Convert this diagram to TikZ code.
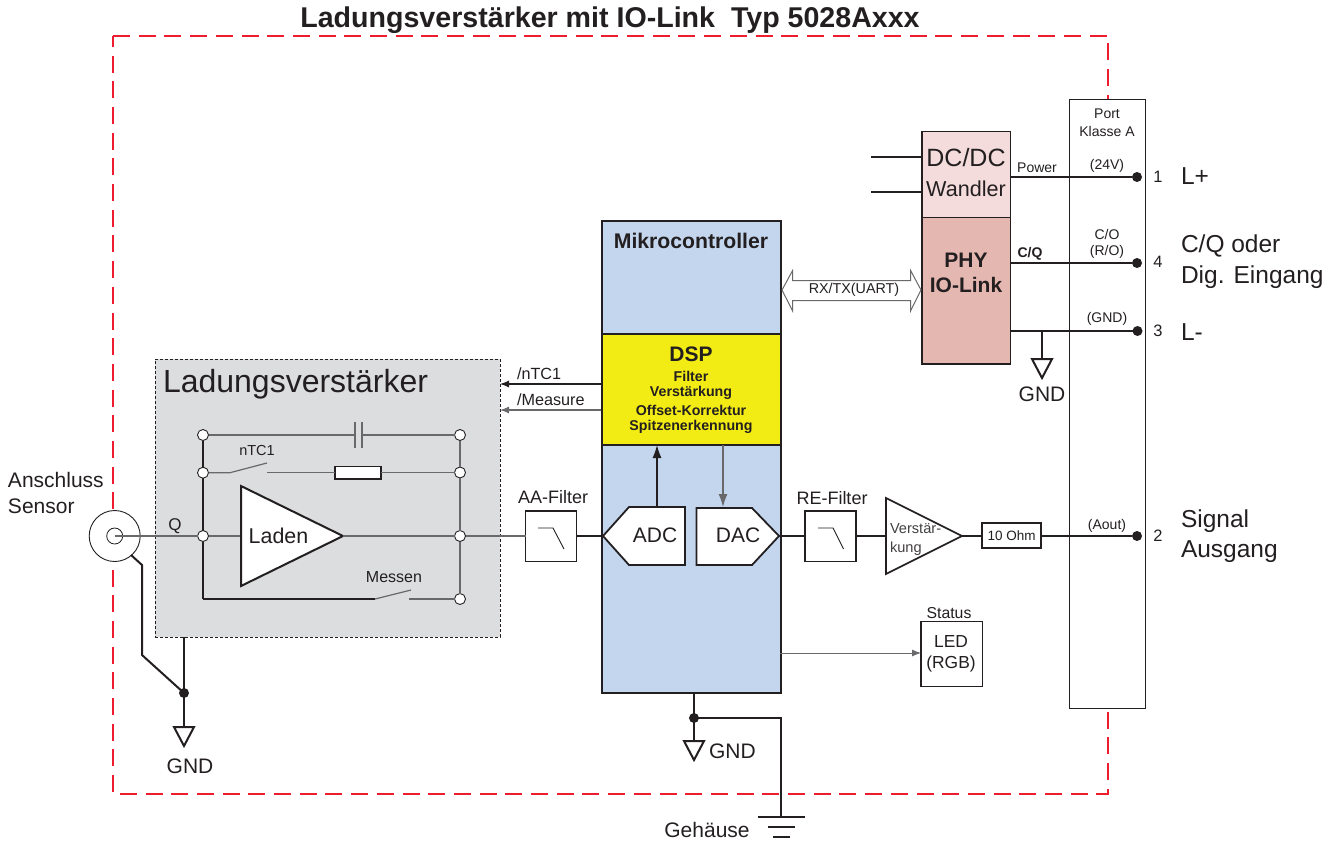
\documentclass[tikz,border=0pt]{standalone}
\usepackage{fontspec}
\setmainfont{Liberation Sans}
\usetikzlibrary{arrows.meta,calc}
\definecolor{ink}{RGB}{35,31,32}
\definecolor{wire}{RGB}{105,105,108}
\definecolor{redframe}{RGB}{237,28,46}
\definecolor{lvgray}{RGB}{220,221,223}
\definecolor{mcblue}{RGB}{196,214,238}
\definecolor{dspyellow}{RGB}{243,236,20}
\definecolor{dcpink}{RGB}{243,220,219}
\definecolor{phyrose}{RGB}{229,183,177}
\newcommand\fsz[1]{\fontsize{#1}{#1}\selectfont}
\newcommand\rbox[6]{%
  \pgfmathsetmacro\rcx{(#3+#5)/2}\pgfmathsetmacro\rcy{(#4+#6)/2}%
  \pgfmathsetmacro\rw{#5-#3}\pgfmathsetmacro\rh{#6-#4}%
  \node[#2, minimum width=\rw pt, minimum height=\rh pt] (#1) at (\rcx,\rcy) {};}
\tikzset{
  base/.style={inner sep=0pt, outer sep=0pt, rectangle},
  thickbox/.style={base, draw=ink, line width=1.8pt},
  hair/.style={draw=ink, line width=0.9pt},
  thinwire/.style={draw=wire, line width=1.2pt},
  midwire/.style={draw=ink, line width=1.2pt},
  heavy/.style={draw=ink, line width=2pt},
  txt/.style={inner sep=0pt, outer sep=0pt, text=ink, align=center},
  ltxt/.style={txt, anchor=west, align=left},
  opn/.style={circle, draw=ink, fill=white, line width=0.9pt, minimum size=11pt, inner sep=0pt, outer sep=0pt},
  jdot/.style={circle, fill=ink, minimum size=10pt, inner sep=0pt, outer sep=0pt},
  tri/.style={draw=ink, line width=2pt, fill=white, line join=miter},
  arr/.style={-{Latex[length=9pt,width=7pt]}},
  bigarr/.style={-{Latex[length=13pt,width=9pt]}},
  gndtri/.pic={\draw[heavy, line join=miter] (-10,0) -- (10,0) -- (0,19) -- cycle;}
}
\begin{document}
\begin{tikzpicture}[x=1pt,y=-1pt]
\useasboundingbox (0,0) rectangle (1338,844);
% frame
\coordinate (fa) at (113,36); \coordinate (fb) at (1108,36);
\coordinate (fc) at (1108,794); \coordinate (fd) at (113,794);
\draw[draw=redframe, line width=1.8pt, dash pattern=on 17pt off 8.7pt] (fa) -- (fb) -- (fc) -- (fd) -- cycle;
\node[txt, font=\bfseries\fsz{28.6}] (title) at (610,20) {Ladungsverstärker mit IO-Link\ \ Typ 5028Axxx};
% port
\rbox{port}{base, draw=ink, line width=0.9pt, fill=white}{1069.5}{99}{1145.5}{708}
\node[txt, font=\fsz{14}] (portl) at (1107,114) {Port};
\node[txt, font=\fsz{14}] (portk) at (1107,131) {Klasse A};
% Ladungsverstaerker block
\rbox{lv}{base, draw=ink, line width=0.8pt, densely dashed, fill=lvgray}{155}{359}{500}{637}
\node[ltxt, font=\fsz{32}] (lvt) at (163,384) {Ladungsverstärker};
% coax
\node[circle, draw=ink, fill=white, line width=0.9pt, minimum size=51pt, inner sep=0pt, outer sep=0pt] (coax) at (114.7,536) {};
\node[circle, draw=ink, fill=white, line width=0.8pt, minimum size=16pt, inner sep=0pt, outer sep=0pt] (coaxi) at (114.7,536) {};
\node[ltxt, font=\fsz{21}] (ans) at (8,480) {Anschluss};
\node[ltxt, font=\fsz{21}] (sen) at (8,506) {Sensor};
% circuit nodes
\node[opn] (l1) at (203,435) {};
\node[opn] (l2) at (203,472.7) {};
\node[opn] (l3) at (203,536) {};
\node[opn] (r1) at (460,435) {};
\node[opn] (r2) at (460,472.5) {};
\node[opn] (r3) at (460,536) {};
\node[opn] (r4) at (460,599) {};
\coordinate (lb) at (203,599);
\draw[thinwire] (coaxi.center) -- (l3);
\draw[midwire] (l1) -- (l2) -- (l3) -- (lb);
\draw[thinwire, line width=1.5pt] (r1) -- (r2) -- (r3) -- (r4);
\node[txt, font=\fsz{17}] (q) at (175,526) {Q};
% capacitor
\coordinate (c1) at (355,435); \coordinate (c2) at (362,435);
\draw[thinwire, line width=1.5pt] (l1) -- (c1);
\draw[thinwire, line width=1.5pt] (c2) -- (r1);
\draw[thinwire] ($(c1)+(0,-13)$) -- ($(c1)+(0,13)$);
\draw[thinwire] ($(c2)+(0,-13)$) -- ($(c2)+(0,13)$);
% resistor and nTC1 switch
\rbox{res}{base, draw=ink, line width=1.5pt, fill=white}{335}{466.5}{381}{479}
\coordinate (s1a) at (230,472.7); \coordinate (s1b) at (267,463); \coordinate (s1c) at (267,472.7);
\draw[thinwire] (l2) -- (s1a) -- (s1b);
\draw[thinwire, line width=1.5pt] (s1c) -- (res.west |- s1c);
\draw[thinwire, line width=1.5pt] (res.east |- r2) -- (r2);
\node[txt, font=\fsz{14.5}] (ntc) at (257,450) {nTC1};
% Messen switch
\coordinate (s2a) at (375,599); \coordinate (s2b) at (411,590); \coordinate (s2c) at (409,599);
\draw[midwire] (lb) -- (s2a);
\draw[thinwire] (s2a) -- (s2b);
\draw[thinwire] (s2c) -- (r4);
\node[txt, font=\fsz{16}] (mes) at (394,577) {Messen};
% Laden amp
\coordinate (la) at (241,486); \coordinate (lc) at (241,586); \coordinate (lt) at (343,536);
\draw[thinwire] (l3) -- (241,536);
\draw[tri] (la) -- (lt) -- (lc) -- cycle;
\node[txt, font=\fsz{21.4}] (lad) at (278.5,536) {Laden};
% AA filter
\rbox{aa}{base, draw=ink, line width=1.5pt, fill=white}{525.5}{511}{576.7}{561.7}
\draw[hair] (538,528) -- (553,528) -- (564,549);
\node[txt, font=\fsz{18}] (aal) at (553,497) {AA-Filter};
\draw[thinwire, line width=1.3pt] (lt) -- (r3);
\draw[thinwire, line width=1.3pt] (r3) -- (aa.west |- r3);
% Mikrocontroller
\rbox{mc}{base, draw=ink, line width=2pt, fill=mcblue}{601.5}{220.5}{781}{692.5}
\node[txt, font=\bfseries\fsz{21.2}] (mct) at (691,241) {Mikrocontroller};
\rbox{dsp}{base, draw=ink, line width=2pt, fill=dspyellow}{601.5}{334}{781}{445}
\node[txt, font=\bfseries\fsz{21}] (dspt) at (691,354) {DSP};
\node[txt, font=\bfseries\fsz{14.2}] (d1) at (691,376) {Filter};
\node[txt, font=\bfseries\fsz{14.2}] (d2) at (691,393) {Verstärkung};
\node[txt, font=\bfseries\fsz{14.2}] (d3) at (691,410) {Offset-Korrektur};
\node[txt, font=\bfseries\fsz{14.2}] (d4) at (691,427) {Spitzenerkennung};
% ADC / DAC
\coordinate (adcw) at (603,536);
\draw[thickbox, fill=white, line join=miter] (adcw) -- (629,507) -- (685,507) -- (685,565) -- (629,565) -- cycle;
\node[txt, font=\fsz{21}] (adc) at (655,535.5) {ADC};
\coordinate (dace) at (779,536);
\draw[thickbox, fill=white, line join=miter] (696.5,508) -- (752,508) -- (dace) -- (752,565) -- (696.5,565) -- cycle;
\node[txt, font=\fsz{21}] (dac) at (738,535.5) {DAC};
\coordinate (adcn) at (657,507); \coordinate (dacn) at (723,507);
\draw[midwire, bigarr] (adcn) -- (adcn |- dsp.south);
\draw[thinwire, bigarr] (dacn |- dsp.south) -- (dacn);
\draw[midwire] (aa.east |- adcw) -- (adcw);
% outputs to Ladungsverstaerker
\coordinate (ntcs) at (601,384); \coordinate (meas) at (601,410);
\draw[midwire, line width=1.1pt, arr] (ntcs) -- (ntcs -| lv.east);
\draw[thinwire, arr] (meas) -- (meas -| lv.east);
\node[ltxt, font=\fsz{16.2}] (ntl) at (517,374) {/nTC1};
\node[ltxt, font=\fsz{16.2}] (mel) at (517,400) {/Measure};
% RE filter, amp, resistor
\rbox{re}{base, draw=ink, line width=1.5pt, fill=white}{805}{511}{856}{561.7}
\draw[hair] (818,528) -- (833,528) -- (843.5,549);
\node[txt, font=\fsz{18}] (rel) at (832,498) {RE-Filter};
\coordinate (va) at (886,498); \coordinate (vb) at (886,574); \coordinate (vt) at (962,536);
\draw[heavy] (dace) -- (re.west |- dace);
\draw[heavy] (re.east |- vt) -- (886,536);
\draw[tri, line width=1.7pt] (va) -- (vt) -- (vb) -- cycle;
\node[ltxt, font=\fsz{14.6}, text=ink!85] (v1) at (890,529) {Verstär-};
\node[ltxt, font=\fsz{14.6}, text=ink!85] (v2) at (890,549) {kung};
\rbox{ohm}{base, draw=ink, line width=1.5pt, fill=white}{982}{523}{1041}{548}
\node[txt, font=\fsz{13.5}] (ohmt) at (1011.5,535.5) {10 Ohm};
\draw[heavy] (vt) -- (ohm.west |- vt);
% DC/DC and PHY
\rbox{dc}{base, draw=ink, line width=1.8pt, fill=dcpink}{921.7}{131.5}{1010.5}{217.5}
\rbox{phy}{base, draw=ink, line width=1.8pt, fill=phyrose}{921.7}{217.5}{1010.5}{364}
\node[txt, font=\fsz{25}] (dct) at (966,158) {DC/DC};
\node[txt, font=\fsz{21.6}] (dcw) at (966,189) {Wandler};
\node[txt, font=\bfseries\fsz{21}] (phy1) at (966,260) {PHY};
\node[txt, font=\bfseries\fsz{21}] (phy2) at (966,285) {IO-Link};
\coordinate (in1) at (871,157); \coordinate (in2) at (871,192);
\draw[midwire] (in1) -- (in1 -| dc.west);
\draw[midwire] (in2) -- (in2 -| dc.west);
% terminals
\node[jdot] (t1) at (1137,177) {};
\node[jdot] (t4) at (1137,263) {};
\node[jdot] (t3) at (1137.5,331) {};
\node[jdot] (t2) at (1137,536) {};
\draw[heavy] (t1 -| dc.east) -- (t1);
\draw[heavy] (t4 -| phy.east) -- (t4);
\draw[heavy] (t3 -| phy.east) -- (t3);
\draw[heavy] (t2 -| ohm.east) -- (t2);
\node[txt, font=\fsz{14}] (pw) at (1037,168) {Power};
\node[txt, font=\bfseries\fsz{14}] (cq) at (1030,254) {C/Q};
\node[txt, font=\fsz{14}] (v24) at (1107,166) {(24V)};
\node[txt, font=\fsz{14}] (co) at (1107,234) {C/O};
\node[txt, font=\fsz{14}] (ro) at (1107,252) {(R/O)};
\node[txt, font=\fsz{14}] (gn) at (1107,319) {(GND)};
\node[txt, font=\fsz{14}] (ao) at (1107,526) {(Aout)};
\node[txt, font=\fsz{16.5}] (n1) at (1158,177) {1};
\node[txt, font=\fsz{16.5}] (n4) at (1158,262) {4};
\node[txt, font=\fsz{16.5}] (n3) at (1158,331) {3};
\node[txt, font=\fsz{16.5}] (n2) at (1158,536) {2};
\node[ltxt, font=\fsz{24.5}] (lp) at (1181,176) {L+};
\node[ltxt, font=\fsz{24.5}] (cqo) at (1181,246) {C/Q oder};
\node[ltxt, font=\fsz{24.5}] (dig) at (1181,277) {Dig. Eingang};
\node[ltxt, font=\fsz{24.5}] (lm) at (1181,332) {L-};
\node[ltxt, font=\fsz{24.5}] (sg) at (1181,521) {Signal};
\node[ltxt, font=\fsz{24.5}] (ag) at (1181,552) {Ausgang};
% PHY ground
\coordinate (pg) at (1042,331); \coordinate (pgb) at (1042,359);
\draw[heavy] (pg) -- (pgb);
\pic at (pgb) {gndtri};
\node[txt, font=\fsz{21}] (gnd1) at (1042,394) {GND};
% UART double arrow
\coordinate (ul) at (782,290); \coordinate (ur) at (921,290);
\draw[draw=wire, line width=1pt, fill=white, line join=miter] (ul) -- (792.5,270.7) -- (792.5,280.7) -- (910.7,280.7) -- (910.7,270.7) -- (ur) -- (910.7,310.7) -- (910.7,300.7) -- (792.5,300.7) -- (792.5,310.7) -- cycle;
\node[txt, font=\fsz{14.3}] (uart) at (854,290) {RX/TX(UART)};
% LED
\rbox{led}{base, draw=ink, line width=1.7pt, fill=white}{921}{621.5}{982.5}{686.5}
\node[txt, font=\fsz{15.8}] (stat) at (949,613) {Status};
\node[txt, font=\fsz{17.4}] (led1) at (951,642) {LED};
\node[txt, font=\fsz{17.4}] (led2) at (951,664) {(RGB)};
\coordinate (ls) at (780,653);
\draw[thinwire, arr, line width=0.9pt] (ls) -- (ls -| led.west);
% sensor ground
\node[jdot] (j1) at (184,693) {};
\coordinate (g1) at (184,727);
\coordinate (cg) at (131,555); \coordinate (cg2) at (142,565); \coordinate (cg3) at (142,655);
\draw[heavy] (cg) -- (cg2) -- (cg3) -- (j1.center);
\draw[heavy] (g1 |- lv.south) -- (g1);
\pic at (g1) {gndtri};
\node[txt, font=\fsz{21}] (gnd2) at (190,766) {GND};
% controller ground
\node[jdot] (j2) at (694,718) {};
\coordinate (g2) at (694,741);
\coordinate (ch) at (781,718); \coordinate (cb) at (781,816.5);
\draw[heavy] (g2 |- mc.south) -- (g2);
\pic at (g2) {gndtri};
\node[ltxt, font=\fsz{21}] (gnd3) at (709,751) {GND};
\draw[heavy, line join=miter] (j2.center) -- (ch) -- (cb);
\draw[heavy] (758,816.5) -- (805,816.5);
\draw[heavy] (768,827) -- (795,827);
\draw[heavy] (773,837) -- (790,837);
\node[txt, font=\fsz{21}] (geh) at (707,830) {Gehäuse};
\end{tikzpicture}
\end{document}
